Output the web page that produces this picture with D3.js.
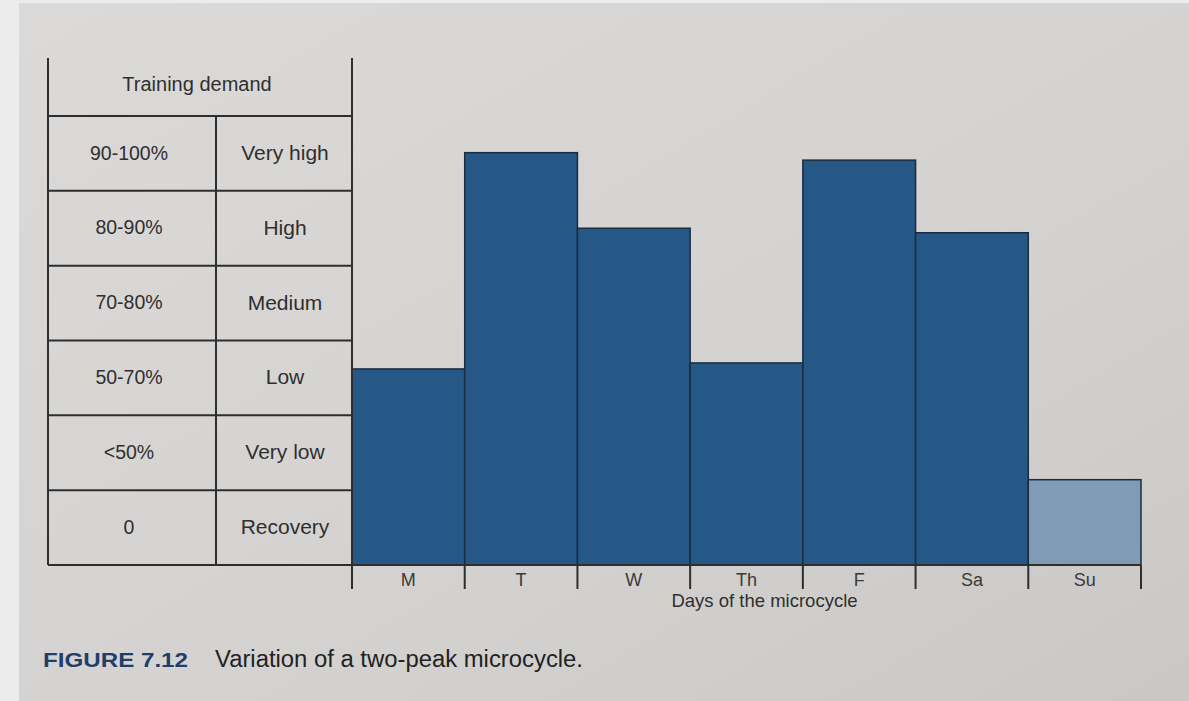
<!DOCTYPE html>
<html>
<head>
<meta charset="utf-8">
<script src="https://cdn.jsdelivr.net/npm/d3@7"></script>
<style>
  html, body { margin: 0; padding: 0; background: #d6d4d2; }
  svg { display: block; }
  text { font-family: "Liberation Sans", Arial, Helvetica, sans-serif; }
</style>
</head>
<body>
<svg id="chart" width="1189" height="701"></svg>
<script>
// ---- data ----
const days = ["M", "T", "W", "Th", "F", "Sa", "Su"];
const demand = [2.62, 5.51, 4.50, 2.70, 5.41, 4.44, 1.14];   // in table-row units (0 = Recovery row bottom)
const recoveryDay = ["Su"];
const percentLabels = ["0", "<50%", "50-70%", "70-80%", "80-90%", "90-100%"];
const levelLabels = ["Recovery", "Very low", "Low", "Medium", "High", "Very high"];
const tableTitle = "Training demand";
const xTitle = "Days of the microcycle";
const figLabel = "FIGURE 7.12";
const figCaption = "Variation of a two-peak microcycle.";

// ---- layout ----
const svg = d3.select("#chart");
const W = 1189, H = 701;
const tableLeft = 48, tableMid = 216, tableRight = 352, tableTop = 58;
const base = 565, top6 = 116;
const chartRight = 1141;

// page background with subtle lighting
const defs = svg.append("defs");
const grad = defs.append("linearGradient").attr("id", "pg").attr("x1", 0).attr("x2", 1).attr("y1", 0).attr("y2", 1);
grad.append("stop").attr("offset", 0).attr("stop-color", "#dcdad8");
grad.append("stop").attr("offset", 0.6).attr("stop-color", "#d4d2d0");
grad.append("stop").attr("offset", 1).attr("stop-color", "#cac8c6");
svg.append("rect").attr("width", W).attr("height", H).attr("fill", "url(#pg)");
svg.append("rect").attr("width", 19).attr("height", H).attr("fill", "#ececec");
svg.append("rect").attr("width", W).attr("height", 3).attr("fill", "#ececec");

// scales
const y = d3.scaleLinear().domain([0, 6]).range([base, top6]);
const x = d3.scaleBand().domain(days).range([tableRight, chartRight]).paddingInner(0).paddingOuter(0);
const rows = d3.range(6);

const lineCol = "#2e2e2e";
const textCol = "#2f2f2f";

// ---- table ----
const tbl = svg.append("g");
tbl.selectAll("line.h").data(d3.range(7)).join("line")
  .attr("x1", tableLeft).attr("x2", tableRight)
  .attr("y1", d => y(d)).attr("y2", d => y(d))
  .attr("stroke", lineCol).attr("stroke-width", 2);
tbl.append("line").attr("x1", tableLeft).attr("x2", tableLeft).attr("y1", tableTop).attr("y2", y(0))
  .attr("stroke", lineCol).attr("stroke-width", 2);
tbl.append("line").attr("x1", tableMid).attr("x2", tableMid).attr("y1", y(6)).attr("y2", y(0))
  .attr("stroke", lineCol).attr("stroke-width", 2);

tbl.append("text").attr("x", (tableLeft + tableRight) / 2 - 3).attr("y", (tableTop + y(6)) / 2 - 1)
  .attr("text-anchor", "middle").attr("dominant-baseline", "middle")
  .attr("font-size", 20).attr("fill", textCol).text(tableTitle);

tbl.selectAll("text.p").data(rows).join("text").attr("class", "p")
  .attr("x", (tableLeft + tableMid) / 2 - 3)
  .attr("y", d => (y(d) + y(d + 1)) / 2 + 1)
  .attr("text-anchor", "middle").attr("dominant-baseline", "middle")
  .attr("font-size", 19.5).attr("fill", textCol)
  .text(d => percentLabels[d]);

tbl.selectAll("text.l").data(rows).join("text").attr("class", "l")
  .attr("x", (tableMid + tableRight) / 2 + 1)
  .attr("y", d => (y(d) + y(d + 1)) / 2 + 1)
  .attr("text-anchor", "middle").attr("dominant-baseline", "middle")
  .attr("font-size", 21).attr("fill", textCol)
  .text(d => levelLabels[d]);

// ---- bars ----
svg.append("g").selectAll("rect").data(days).join("rect")
  .attr("x", d => x(d))
  .attr("width", x.bandwidth())
  .attr("y", (d, i) => y(demand[i]))
  .attr("height", (d, i) => y(0) - y(demand[i]))
  .attr("fill", d => recoveryDay.includes(d) ? "#7f9bb6" : "#255887")
  .attr("stroke", "#1b2c3e").attr("stroke-width", 1.5);

// ---- x axis ----
const ax = svg.append("g").attr("transform", `translate(0,${base})`);
ax.append("line").attr("x1", tableRight).attr("x2", chartRight).attr("y1", 0).attr("y2", 0)
  .attr("stroke", lineCol).attr("stroke-width", 2);
const bounds = days.map(d => x(d)).concat([x.range()[1]]);
ax.selectAll("line.t").data(bounds).join("line").attr("class", "t")
  .attr("x1", d => d).attr("x2", d => d)
  .attr("y1", (d, i) => i === 0 ? -(base - tableTop) : 0).attr("y2", 24)
  .attr("stroke", lineCol).attr("stroke-width", 2);
ax.selectAll("text.d").data(days).join("text").attr("class", "d")
  .attr("x", d => x(d) + x.bandwidth() / 2)
  .attr("y", 21)
  .attr("text-anchor", "middle")
  .attr("font-size", 18).attr("fill", "#3a3a3a")
  .text(d => d);

svg.append("text").attr("x", (tableRight + chartRight) / 2 + 18).attr("y", base + 42)
  .attr("text-anchor", "middle").attr("font-size", 18.5).attr("fill", textCol).text(xTitle);

// ---- caption ----
svg.append("text").attr("x", 43).attr("y", 667)
  .attr("font-size", 20).attr("font-weight", "bold").attr("fill", "#1f3e6c")
  .attr("textLength", 145).attr("lengthAdjust", "spacingAndGlyphs").text(figLabel);
svg.append("text").attr("x", 215).attr("y", 667)
  .attr("font-size", 23).attr("fill", "#222")
  .attr("textLength", 368).attr("lengthAdjust", "spacingAndGlyphs").text(figCaption);
</script>
</body>
</html>
